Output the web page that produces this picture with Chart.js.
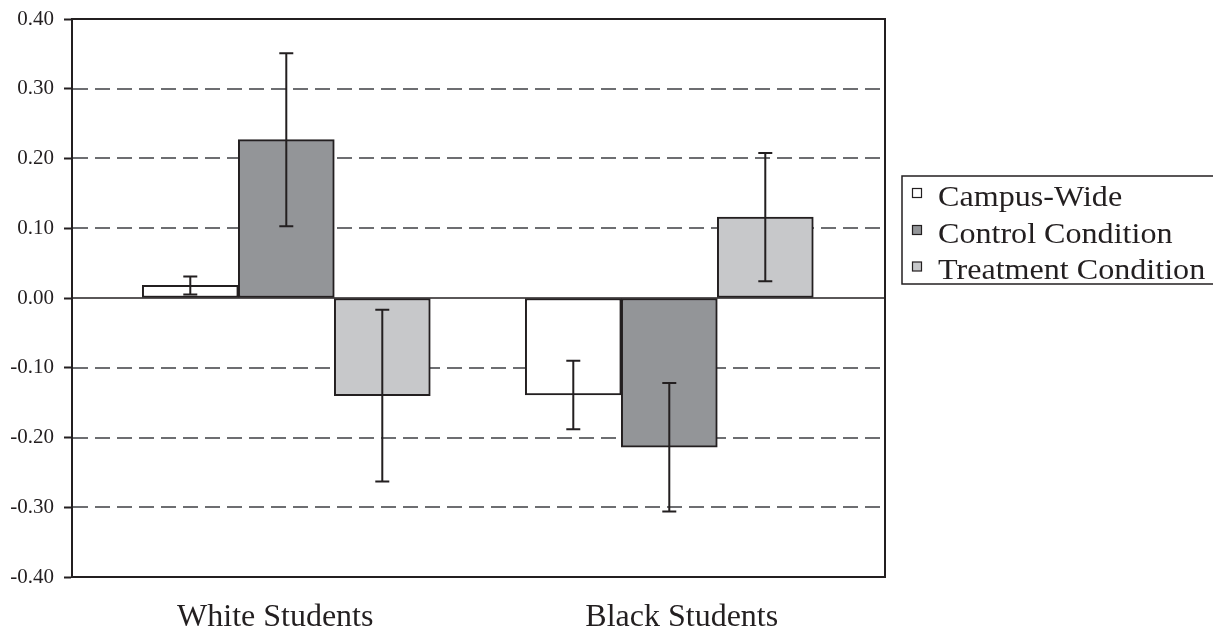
<!DOCTYPE html>
<html>
<head>
<meta charset="utf-8">
<script src="https://cdn.jsdelivr.net/npm/chart.js@4/dist/chart.umd.min.js"></script>
<style>
  html, body { margin: 0; padding: 0; background: #ffffff; }
  #wrap { width: 1213px; height: 635px; position: relative; }
</style>
</head>
<body>
<div id="wrap"><canvas id="chart"></canvas></div>
<script>
// Student groups shown along the bottom
const groups = ['White Students', 'Black Students'];
// Group positions on the numeric x axis that carries the bars
const groupPositions = [1, 2];

// Series names
const seriesNames = ['Campus-Wide', 'Control Condition', 'Treatment Condition'];

// Mean values per series (White, Black)
const campusWide = [0.018, -0.139];
const controlCondition = [0.227, -0.214];
const treatmentCondition = [-0.140, 0.116];

// Error bar half-widths per series (White, Black)
const campusWideErr = [0.013, 0.049];
const controlConditionErr = [0.124, 0.092];
const treatmentConditionErr = [0.123, 0.092];

// Y axis tick values
const yTicks = [-0.4, -0.3, -0.2, -0.1, 0.0, 0.1, 0.2, 0.3, 0.4];

const fills = ['#ffffff', '#939598', '#c7c8ca'];
const ink = '#231f20';
const serif = "'Liberation Serif', 'Times New Roman', serif";

const seriesValues = [campusWide, controlCondition, treatmentCondition];
const seriesErrors = [campusWideErr, controlConditionErr, treatmentConditionErr];

const datasets = seriesNames.map((name, i) => ({
  label: name,
  data: seriesValues[i].map((v, j) => ({ x: groupPositions[j], y: v })),
  errors: seriesErrors[i],
  backgroundColor: fills[i],
  borderColor: ink,
  borderWidth: 2,
  borderSkipped: false,
  barThickness: 96,
  xAxisID: 'x',
  yAxisID: 'y'
}));

// Dashed grid, zero line and plot frame, drawn under the bars
const backdrop = {
  id: 'backdrop',
  beforeDatasetsDraw(chart) {
    const { ctx, chartArea: a, scales: { y } } = chart;
    ctx.save();
    ctx.lineWidth = 2;
    ctx.strokeStyle = '#6d6e71';
    ctx.setLineDash([15, 7]);
    yTicks.forEach(v => {
      if (Math.abs(v) < 1e-9 || Math.abs(Math.abs(v) - 0.4) < 1e-9) return;
      const py = Math.round(y.getPixelForValue(v));
      ctx.beginPath();
      ctx.moveTo(a.left + 1, py);
      ctx.lineTo(a.right, py);
      ctx.stroke();
    });
    ctx.setLineDash([]);
    ctx.strokeStyle = ink;
    ctx.lineWidth = 1.5;
    const zy = y.getPixelForValue(0);
    ctx.beginPath();
    ctx.moveTo(a.left, zy);
    ctx.lineTo(a.right, zy);
    ctx.stroke();
    ctx.restore();
  },
  afterDraw(chart) {
    const { ctx, chartArea: a } = chart;
    ctx.save();
    ctx.strokeStyle = ink;
    ctx.lineWidth = 2;
    ctx.strokeRect(a.left, a.top, a.right - a.left, a.bottom - a.top);
    ctx.restore();
  }
};

// Error bars with caps, from each bar's value and its half-width
const errorBars = {
  id: 'errorBars',
  afterDatasetsDraw(chart) {
    const { ctx, scales: { y } } = chart;
    ctx.save();
    ctx.strokeStyle = ink;
    ctx.lineWidth = 2;
    chart.data.datasets.forEach((ds, i) => {
      const meta = chart.getDatasetMeta(i);
      meta.data.forEach((bar, j) => {
        const v = ds.data[j].y;
        const e = ds.errors[j];
        const x = bar.x;
        const top = y.getPixelForValue(v + e);
        const bot = y.getPixelForValue(v - e);
        ctx.beginPath();
        ctx.moveTo(x, top); ctx.lineTo(x, bot);
        ctx.moveTo(x - 7, top); ctx.lineTo(x + 7, top);
        ctx.moveTo(x - 7, bot); ctx.lineTo(x + 7, bot);
        ctx.stroke();
      });
    });
    ctx.restore();
  }
};

// Boxed legend to the right of the plot
const boxLegend = {
  id: 'boxLegend',
  afterDraw(chart) {
    const { ctx } = chart;
    const left = 902, top = 176, bottom = 284, right = 1216;
    ctx.save();
    ctx.strokeStyle = ink;
    ctx.lineWidth = 1.5;
    ctx.strokeRect(left, top, right - left, bottom - top);
    const baselines = [205.5, 242.5, 279];
    chart.data.datasets.forEach((ds, i) => {
      const b = baselines[i];
      ctx.fillStyle = ds.backgroundColor;
      ctx.fillRect(912.5, b - 17, 9, 9);
      ctx.strokeStyle = ink;
      ctx.lineWidth = 1.2;
      ctx.strokeRect(912.5, b - 17, 9, 9);
      ctx.save();
      ctx.translate(938, b);
      ctx.scale(1.07, 1);
      ctx.fillStyle = ink;
      ctx.font = '30px ' + serif;
      ctx.textBaseline = 'alphabetic';
      ctx.textAlign = 'left';
      ctx.fillText(ds.label, 0, 0);
      ctx.restore();
    });
    ctx.restore();
  }
};

new Chart(document.getElementById('chart'), {
  type: 'bar',
  data: { datasets },
  options: {
    responsive: true,
    maintainAspectRatio: false,
    animation: false,
    layout: { padding: { top: 19, right: 328, bottom: 0, left: 0 } },
    plugins: {
      legend: { display: false },
      tooltip: { enabled: false }
    },
    scales: {
      x: {
        type: 'linear',
        display: false,
        offset: false,
        grid: { offset: false },
        min: 0.4405,
        max: 2.5632
      },
      cat: {
        type: 'category',
        labels: groups,
        position: 'bottom',
        offset: true,
        grid: { display: false, drawTicks: false },
        border: { display: false },
        ticks: {
          color: ink,
          font: { family: serif, size: 32 },
          padding: 21,
          maxRotation: 0
        },
        afterFit(s) { s.height = 58; s.paddingLeft = 0; s.paddingRight = 0; }
      },
      y: {
        min: -0.4,
        max: 0.4,
        afterBuildTicks(s) { s.ticks = yTicks.map(v => ({ value: v })); },
        grid: {
          drawOnChartArea: false,
          drawTicks: true,
          tickLength: 8,
          tickColor: ink,
          tickWidth: 2
        },
        border: { display: true, color: ink, width: 2 },
        ticks: {
          color: ink,
          font: { family: serif, size: 21 },
          padding: 10,
          callback: v => Number(v).toFixed(2)
        },
        afterFit(s) { s.width = 72; s.paddingTop = 0; s.paddingBottom = 0; }
      }
    }
  },
  plugins: [backdrop, errorBars, boxLegend]
});
</script>
</body>
</html>
